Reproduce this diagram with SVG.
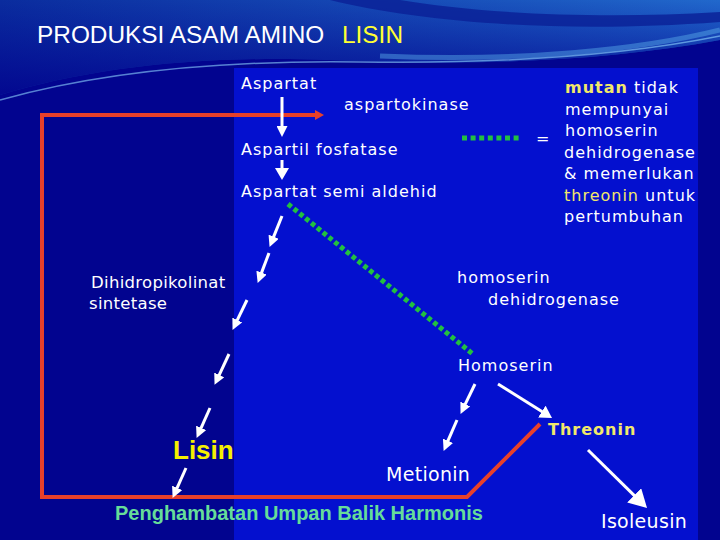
<svg xmlns="http://www.w3.org/2000/svg" width="720" height="540" viewBox="0 0 720 540">
<defs>
<linearGradient id="topg" x1="0" y1="0" x2="1" y2="0">
<stop offset="0" stop-color="#0a2c9e"/>
<stop offset="0.5" stop-color="#1548b4"/>
<stop offset="1" stop-color="#2168cc"/>
</linearGradient>
<linearGradient id="topv" x1="0" y1="0" x2="0" y2="1">
<stop offset="0" stop-color="#02048f" stop-opacity="0"/>
<stop offset="1" stop-color="#02048f" stop-opacity="0.9"/>
</linearGradient>
<marker id="ahs" markerUnits="userSpaceOnUse" markerWidth="11" markerHeight="11" refX="1" refY="5.5" orient="auto"><path d="M0,0 L11,5.5 L0,11 Z" fill="#ffffff"/></marker>
<marker id="ahm" markerUnits="userSpaceOnUse" markerWidth="12" markerHeight="14" refX="1" refY="7" orient="auto"><path d="M0,0 L12,7 L0,14 Z" fill="#ffffff"/></marker>
<marker id="ahl" markerUnits="userSpaceOnUse" markerWidth="18" markerHeight="20" refX="1" refY="10" orient="auto"><path d="M0,0 L18,10 L0,20 Z" fill="#ffffff"/></marker>
<marker id="ahr" markerUnits="userSpaceOnUse" markerWidth="9" markerHeight="10" refX="1" refY="5" orient="auto"><path d="M0,0 L9,5 L0,10 Z" fill="#e8402a"/></marker>
<style>
.t{font-family:"DejaVu Sans",Verdana,sans-serif;font-size:16px;fill:#ffffff;letter-spacing:1px}
.tb{font-family:"DejaVu Sans",Verdana,sans-serif;font-size:19px;fill:#ffffff;letter-spacing:0.3px}
.y{fill:#f2e86a}
.w{stroke:#ffffff;fill:none;stroke-width:3}
.g{stroke:#22c040;fill:none;stroke-width:5}
</style>
</defs>
<rect x="0" y="0" width="720" height="540" fill="#02048f"/>
<path d="M0,0 H720 V40 C600,62 470,66 330,60 C200,55 90,68 0,95 Z" fill="url(#topg)"/>
<path d="M0,0 H720 V40 C600,62 470,66 330,60 C200,55 90,68 0,95 Z" fill="url(#topv)"/>
<path d="M330,0 C420,22 560,34 720,22 L720,12 C590,20 470,12 400,0 Z" fill="#0a1f96" opacity="0.8"/>
<path d="M380,56 C520,62 640,50 720,30" stroke="#5ab0ea" stroke-width="5" fill="none" opacity="0.45"/>
<path d="M0,100 C100,72 220,60 360,62 C500,64 620,56 720,36" stroke="#8fd6ff" stroke-width="1.5" fill="none" opacity="0.6"/>
<rect x="234" y="68" width="464" height="472" fill="#0410cf"/>

<g id="title"><text x="37" y="43" font-family="Liberation Sans,Arial,sans-serif" font-size="24.4" fill="#ffffff">PRODUKSI ASAM AMINO<tspan x="342" fill="#ffff33">LISIN</tspan></text></g>

<g id="connectors">
<path d="M540,424 L467,497 H42 V115 H316" stroke="#e8402a" stroke-width="4" fill="none" marker-end="url(#ahr)"/>
<line class="w" x1="282" y1="97" x2="282" y2="127" marker-end="url(#ahs)"/>
<line class="w" x1="282" y1="160" x2="282" y2="169" stroke-width="4" marker-end="url(#ahm)"/>
<line class="w" x1="282" y1="216" x2="273.3" y2="237.6" marker-end="url(#ahs)"/>
<line class="w" x1="269" y1="253" x2="261.2" y2="273.6" marker-end="url(#ahs)"/>
<line class="w" x1="247" y1="300" x2="236.9" y2="320.9" marker-end="url(#ahs)"/>
<line class="w" x1="229" y1="354" x2="218.8" y2="375.8" marker-end="url(#ahs)"/>
<line class="w" x1="210" y1="408" x2="200.7" y2="428.8" marker-end="url(#ahs)"/>
<line class="w" x1="186" y1="468" x2="176.7" y2="488.8" marker-end="url(#ahs)"/>
<line class="w" x1="475" y1="384" x2="464.9" y2="404.9" marker-end="url(#ahs)"/>
<line class="w" x1="457" y1="420" x2="447.6" y2="441.7" marker-end="url(#ahs)"/>
<line class="w" x1="498" y1="384" x2="542.7" y2="412.1" stroke-width="5" marker-end="url(#ahm)"/>
<line class="w" x1="588" y1="450" x2="634.9" y2="496.1" stroke-width="8" marker-end="url(#ahl)"/>
<line class="g" x1="288" y1="204" x2="474" y2="355" stroke-dasharray="4.5 3"/>
<line class="g" x1="462" y1="138" x2="522" y2="138" stroke-dasharray="5 3.6"/>
</g>

<g id="aspartat"><text class="t" x="241" y="89">Aspartat</text></g>
<g id="aspartokinase"><text class="t" x="344" y="110">aspartokinase</text></g>
<g id="aspartil"><text class="t" x="241" y="155">Aspartil fosfatase</text></g>
<g id="semialdehid"><text class="t" x="241" y="197">Aspartat semi aldehid</text></g>
<g id="legend">
<text class="t" x="536" y="144">=</text>
<text class="t" x="565" y="93"><tspan class="y" font-weight="bold">mutan</tspan> tidak</text>
<text class="t" x="565" y="115">mempunyai</text>
<text class="t" x="565" y="136">homoserin</text>
<text class="t" x="564" y="158">dehidrogenase</text>
<text class="t" x="564" y="179">&amp; memerlukan</text>
<text class="t" x="564" y="201"><tspan class="y">threonin</tspan> untuk</text>
<text class="t" x="564" y="222">pertumbuhan</text>
</g>
<g id="dihidro"><text class="t" x="91" y="288" style="letter-spacing:0.3px;font-size:16.5px">Dihidropikolinat</text><text class="t" x="89" y="309" style="letter-spacing:0.3px;font-size:16.5px">sintetase</text></g>
<g id="homoserin-dh"><text class="t" x="457" y="283">homoserin</text><text class="t" x="488" y="305">dehidrogenase</text></g>
<g id="homoserin"><text class="t" x="458" y="371">Homoserin</text></g>
<g id="threonin"><text class="t y" x="548" y="435" font-weight="bold">Threonin</text></g>
<g id="metionin"><text class="tb" x="386" y="481">Metionin</text></g>
<g id="isoleusin"><text class="tb" x="601" y="528">Isoleusin</text></g>
<g id="lisin"><text x="173" y="459" font-family="Liberation Sans,Arial,sans-serif" font-size="26" font-weight="bold" fill="#f5f000">Lisin</text></g>
<g id="feedback"><text x="115" y="520" font-family="Liberation Sans,Arial,sans-serif" font-size="20" font-weight="bold" fill="#66dd99">Penghambatan Umpan Balik Harmonis</text></g>
</svg>
